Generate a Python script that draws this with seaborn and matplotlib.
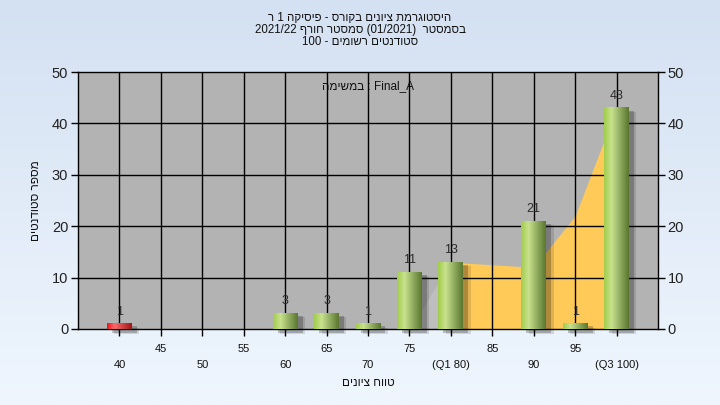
import numpy as np
import pandas as pd
import matplotlib
matplotlib.use("Agg")
import matplotlib.pyplot as plt
import seaborn as sns
from matplotlib.patches import Rectangle

# ---- data ----
categories = ["40", "45", "50", "55", "60", "65", "70", "75", "80", "85", "90", "95", "100"]
tick_labels = ["40", "45", "50", "55", "60", "65", "70", "75", "(Q1 80)", "85", "90", "95", "(Q3 100)"]
counts = [1, 0, 0, 0, 3, 3, 1, 11, 13, 0, 21, 1, 43]
bar_kind = ["low", "ok", "ok", "ok", "ok", "ok", "ok", "ok", "ok", "ok", "ok", "ok", "ok"]
area_pre_idx = [7, 8]
area_pre_vals = [0, 13]
area_idx = [8, 9, 10, 11, 12]
area_vals = [13, 12.5, 12, 22, 43]

title_lines = ["היסטוגרמת ציונים בקורס - פיסיקה 1 ר",
               "בסמסטר  (01/2021) סמסטר חורף 2021/22",
               "סטודנטים רשומים - 100"]
x_title = "טווח ציונים"
y_title = "מספר סטודנטים"
note = "Final_A : במשימה"


def to_visual(s):
    """Minimal right-to-left paragraph reordering (matplotlib has no bidi)."""
    t = []
    for ch in s:
        if "\u0590" <= ch <= "\u05ff":
            t.append("R")
        elif ch.isdigit():
            t.append("EN")
        elif ch.isalpha() or ch == "_":
            t.append("L")
        elif ch in "/.,:":
            t.append("CS")
        else:
            t.append("N")
    last = "R"
    for i, k in enumerate(t):
        if k in ("L", "R"):
            last = k
        elif k == "EN" and last == "L":
            t[i] = "L"
    for i in range(1, len(t) - 1):
        if t[i] == "CS" and t[i - 1] == t[i + 1] and t[i - 1] in ("EN", "L"):
            t[i] = t[i - 1]
    t = ["N" if k == "CS" else k for k in t]
    strong = lambda k: "R" if k == "EN" else k
    lv = [0] * len(t)
    i = 0
    while i < len(t):
        if t[i] != "N":
            lv[i] = 1 if t[i] == "R" else 2
            i += 1
            continue
        j = i
        while j < len(t) and t[j] == "N":
            j += 1
        prev = strong(t[i - 1]) if i > 0 else "R"
        nxt = strong(t[j]) if j < len(t) else "R"
        l = 2 if (prev == nxt == "L") else 1
        for q in range(i, j):
            lv[q] = l
        i = j
    runs = []
    for ch, l in zip(s, lv):
        if runs and runs[-1][1] == l:
            runs[-1][0].append(ch)
        else:
            runs.append([[ch], l])
    mirror = {"(": ")", ")": "(", "[": "]", "]": "["}
    out = ""
    for chars, l in reversed(runs):
        if l == 1:
            out += "".join(mirror.get(c, c) for c in reversed(chars))
        else:
            out += "".join(chars)
    return out


sns.set_theme(style="white")
plt.rcParams["font.family"] = ["Liberation Sans", "DejaVu Sans"]

W, H = 720, 405
fig = plt.figure(figsize=(7.2, 4.05), dpi=100)

# background gradient
bg = fig.add_axes([0, 0, 1, 1], zorder=-10)
top = np.array([0xd4, 0xe1, 0xf2]) / 255
bot = np.array([0xef, 0xf6, 0xfe]) / 255
tt = np.linspace(0, 1, 200)[:, None]
grad = (top[None, :] * (1 - tt) + bot[None, :] * tt)[:, None, :]
bg.imshow(grad, aspect="auto", extent=[0, 1, 0, 1])
bg.set_axis_off()

ax = fig.add_axes([78 / W, 1 - 329 / H, 580 / W, 257 / H])
ax.set_facecolor("#b3b3b3")

df = pd.DataFrame({"cat": categories, "count": counts})
sns.barplot(data=df, x="cat", y="count", order=categories, width=0.6,
            color="#9cc648", ax=ax, zorder=3)


def hgrad(cl, ch, cd, n=60):
    cl, ch, cd = [np.array(matplotlib.colors.to_rgb(c)) for c in (cl, ch, cd)]
    out = []
    for i in range(n):
        f = i / (n - 1)
        if f < 0.3:
            c = cl + (ch - cl) * (f / 0.3)
        else:
            c = ch + (cd - ch) * ((f - 0.3) / 0.7)
        out.append(c)
    return np.array(out)[None, :, :]


green = hgrad("#a2cc4c", "#c8e28e", "#5a7630")
red = hgrad("#e8141c", "#ff6a6a", "#a01418")

for p, kind, v in zip(ax.patches, bar_kind, counts):
    p.set_facecolor("none")
    p.set_edgecolor("none")
    if v <= 0:
        continue
    x0, w, h = p.get_x(), p.get_width(), p.get_height()
    for k, a in [(0.0, 0.22), (0.06, 0.12)]:
        ax.add_patch(Rectangle((x0 + 0.12 + k, -0.7 - k * 4), w, h + 0.2,
                               facecolor="black", alpha=a, edgecolor="none",
                               zorder=2.5, clip_on=False))
    ax.imshow(green if kind == "ok" else red, aspect="auto",
              extent=[x0, x0 + w, 0, h], zorder=3, interpolation="bilinear")
    ax.text(x0 + w / 2, h + 1.2, str(v), ha="center", va="bottom",
            fontsize=9, color="#2a2a2a", zorder=5)

# area series
ax.fill_between(area_pre_idx, 0, area_pre_vals, color="#bebebe", zorder=0.5, lw=0)
ax.fill_between(area_idx, 0, area_vals, color="#ffca58", zorder=0.6, lw=0)

# grid
for i in range(len(categories)):
    ax.axvline(i, color="black", lw=1, zorder=1)
for yv in [10, 20, 30, 40]:
    ax.axhline(yv, color="black", lw=1, zorder=1)

ax.set_xlim(-1, 13)
ax.set_ylim(0, 50)
ax.set_yticks([0, 10, 20, 30, 40, 50])
ax.tick_params(axis="y", which="both", left=True, right=True, labelleft=True,
               labelright=True, length=5, width=1, color="black",
               labelsize=10.5, labelcolor="#222222", pad=2)
ax.set_xticks(range(len(categories)))
ax.set_xticklabels([lab if i % 2 == 1 else "\n" + lab for i, lab in enumerate(tick_labels)],
                   fontsize=8, color="#111111", linespacing=1.75)
ax.tick_params(axis="x", bottom=True, length=5, width=1, color="black", pad=6)
for s in ax.spines.values():
    s.set_color("black")
    s.set_linewidth(1)

ax.set_xlabel(to_visual(x_title), fontsize=8.5, color="#111111", labelpad=5)
ax.set_ylabel(to_visual(y_title), fontsize=8.5, color="#111111", rotation=90,
              labelpad=14, va="bottom")
ax.yaxis.set_label_coords(-0.062, 0.5)

ax.text(0.5, 0.945, to_visual(note), transform=ax.transAxes, ha="center",
        va="center", fontsize=8.5, color="#111111", zorder=0.8)

for i, line in enumerate(title_lines):
    fig.text(0.5, 1 - (18 + 12 * i) / H, to_visual(line), ha="center",
             va="center", fontsize=8.3, color="#111111")

fig.savefig("out.png", dpi=100)
